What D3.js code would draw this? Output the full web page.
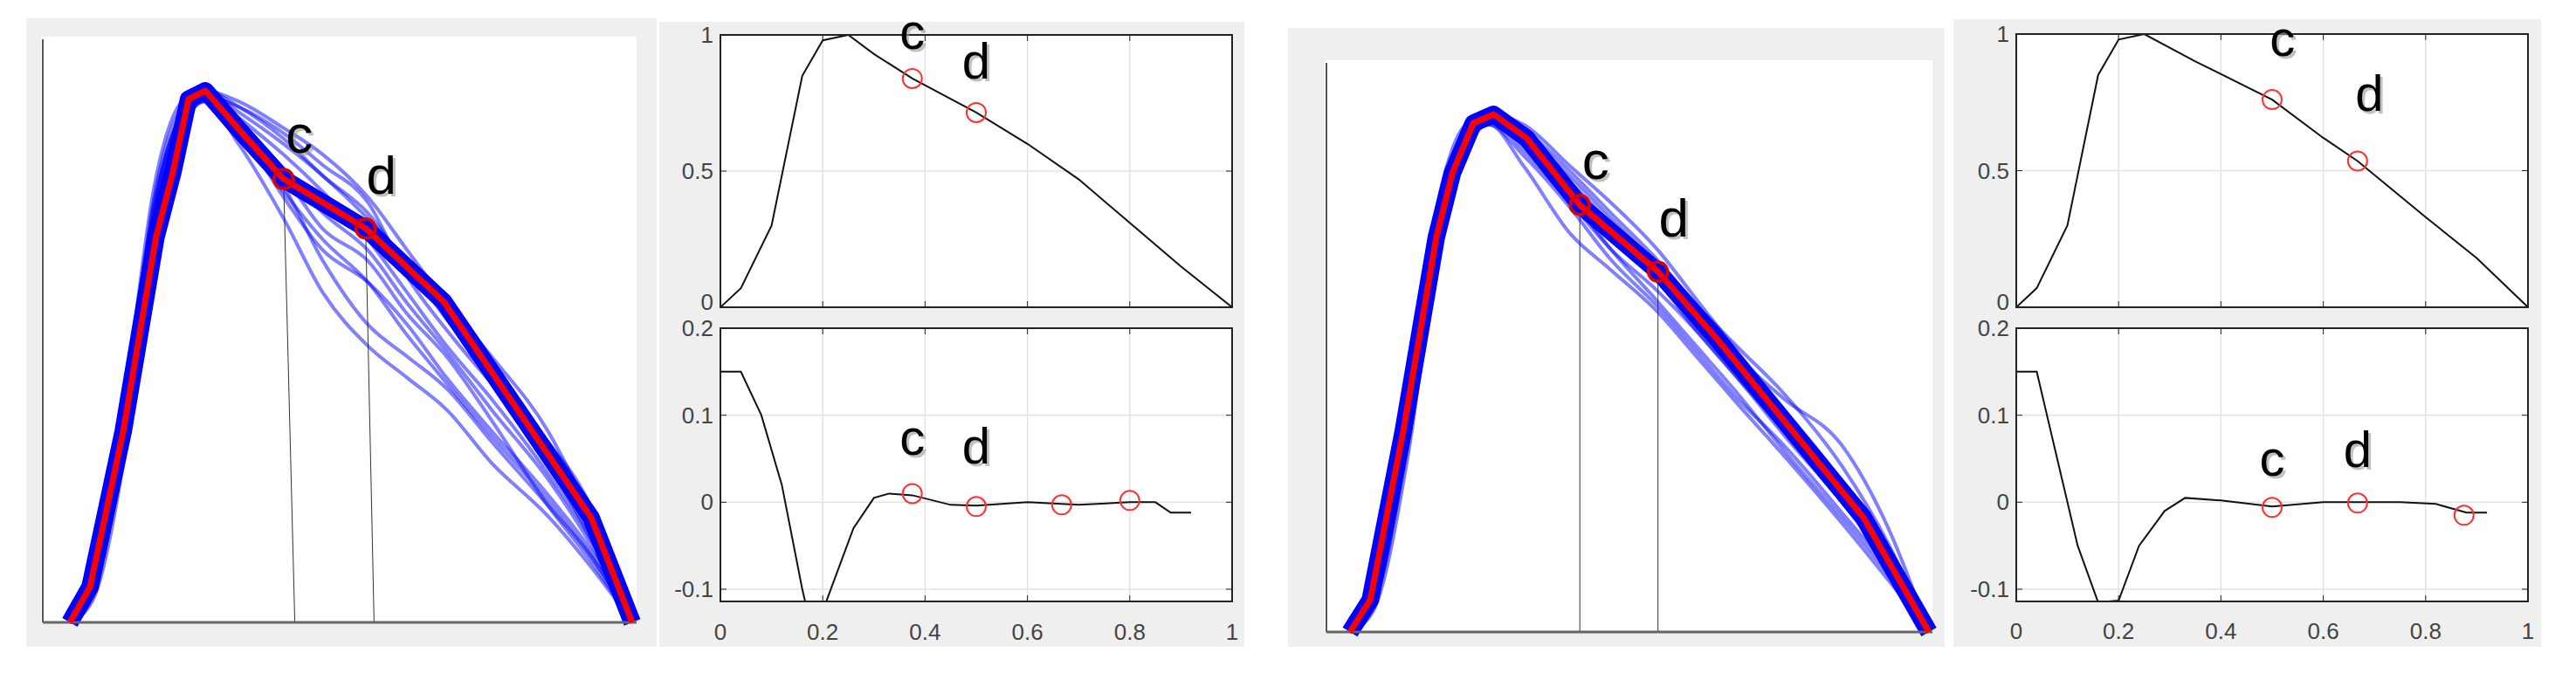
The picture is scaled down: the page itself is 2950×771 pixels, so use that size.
<!DOCTYPE html>
<html><head><meta charset="utf-8">
<script src="https://cdn.jsdelivr.net/npm/d3@7"></script>
<style>body{margin:0;background:#fff}</style></head>
<body><svg id="c" width="2950" height="771"></svg>
<script>
// ---------- data ----------
const gridX = [0,0.04,0.1,0.15,0.2,0.24,0.3,0.38,0.45,0.53,0.6,0.67,0.75,0.85,0.93,1];
const meanA = [[0,0],[0.036,0.067],[0.095,0.36],[0.153,0.724],[0.183,0.846],[0.211,0.984],[0.241,1],[0.30,0.928],[0.38,0.834],[0.526,0.741],[0.665,0.603],[0.927,0.197],[1,0]];
const meanB = [[0,0],[0.035,0.062],[0.092,0.388],[0.149,0.762],[0.177,0.887],[0.213,0.983],[0.248,1],[0.305,0.954],[0.397,0.825],[0.532,0.696],[0.631,0.57],[0.887,0.221],[1,0]];
const curvesA = [
 [0,0.07,0.42,0.80,0.97,1,0.98,0.93,0.88,0.80,0.70,0.60,0.48,0.32,0.17,0],
 [0,0.05,0.38,0.74,0.95,0.99,0.93,0.80,0.70,0.64,0.56,0.46,0.36,0.24,0.13,0],
 [0,0.06,0.35,0.70,0.93,0.98,0.90,0.76,0.62,0.52,0.46,0.40,0.30,0.20,0.10,0],
 [0,0.08,0.44,0.82,0.98,1,0.97,0.91,0.84,0.77,0.67,0.57,0.46,0.30,0.15,0],
 [0,0.05,0.37,0.76,0.94,0.99,0.92,0.84,0.74,0.68,0.58,0.50,0.38,0.22,0.11,0],
 [0,0.06,0.40,0.78,0.96,1,0.96,0.90,0.84,0.76,0.68,0.60,0.50,0.36,0.19,0],
 [0,0.04,0.33,0.72,0.93,0.98,0.91,0.82,0.68,0.56,0.50,0.44,0.34,0.22,0.12,0],
 [0,0.07,0.41,0.79,0.96,1,0.95,0.88,0.81,0.72,0.62,0.52,0.42,0.28,0.15,0],
 [0,0.06,0.39,0.77,0.95,0.99,0.97,0.92,0.86,0.79,0.65,0.55,0.45,0.34,0.21,0],
 [0,0.07,0.40,0.78,0.96,1,0.94,0.85,0.77,0.70,0.60,0.51,0.40,0.27,0.14,0],
 [0,0.05,0.36,0.75,0.94,0.99,0.92,0.81,0.72,0.64,0.54,0.45,0.35,0.23,0.12,0]
];
const curvesB = [
 [0,0.07,0.42,0.80,0.97,1,0.98,0.90,0.83,0.74,0.64,0.54,0.43,0.29,0.15,0],
 [0,0.05,0.38,0.75,0.95,0.99,0.94,0.84,0.74,0.64,0.55,0.46,0.35,0.22,0.11,0],
 [0,0.06,0.36,0.72,0.93,0.98,0.90,0.77,0.70,0.62,0.53,0.44,0.34,0.21,0.10,0],
 [0,0.08,0.44,0.82,0.98,1,0.97,0.89,0.81,0.72,0.63,0.55,0.46,0.32,0.17,0],
 [0,0.05,0.37,0.76,0.94,0.99,0.93,0.83,0.74,0.66,0.58,0.49,0.38,0.25,0.13,0],
 [0,0.06,0.40,0.78,0.96,1,0.96,0.87,0.79,0.70,0.61,0.53,0.45,0.36,0.20,0],
 [0,0.04,0.34,0.73,0.93,0.98,0.92,0.82,0.72,0.63,0.54,0.45,0.36,0.23,0.12,0],
 [0,0.07,0.41,0.79,0.96,1,0.95,0.86,0.77,0.68,0.58,0.49,0.39,0.26,0.14,0],
 [0,0.06,0.39,0.77,0.95,0.99,0.96,0.88,0.80,0.71,0.62,0.52,0.41,0.28,0.15,0]
];
const markA = [0.38,0.526], markB = [0.397,0.532];
const dropA = [0.40,0.541], dropB = [0.397,0.532];
const markLabels = ["c","d"];
const topA = [[0,0],[0.04,0.07],[0.1,0.3],[0.16,0.85],[0.2,0.98],[0.25,1],[0.3,0.93],[0.375,0.84],[0.5,0.715],[0.6,0.6],[0.7,0.47],[0.8,0.31],[0.9,0.15],[1,0]];
const botA = [[0,0.15],[0.04,0.15],[0.08,0.1],[0.12,0.02],[0.16,-0.1],[0.17,-0.125],[0.2,-0.125],[0.26,-0.03],[0.3,0.005],[0.33,0.01],[0.375,0.008],[0.45,-0.003],[0.5,-0.004],[0.6,0.0],[0.7,-0.003],[0.8,0.0],[0.85,0.0],[0.88,-0.012],[0.92,-0.012]];
const topCirA = [0.375,0.5], botCirA = [[0.375,0.01],[0.5,-0.005],[0.667,-0.003],[0.8,0.002]];
const topB = [[0,0],[0.04,0.07],[0.1,0.3],[0.16,0.85],[0.2,0.98],[0.25,1],[0.35,0.9],[0.5,0.76],[0.6,0.62],[0.667,0.535],[0.8,0.33],[0.9,0.18],[1,0]];
const botB = [[0,0.15],[0.04,0.15],[0.08,0.05],[0.12,-0.05],[0.16,-0.115],[0.2,-0.113],[0.24,-0.05],[0.29,-0.01],[0.33,0.005],[0.4,0.002],[0.5,-0.005],[0.6,0.0],[0.667,0.0],[0.75,0.0],[0.82,-0.002],[0.88,-0.012],[0.92,-0.012]];
const topCirB = [0.5,0.667], botCirB = [[0.5,-0.006],[0.667,-0.001],[0.875,-0.015]];
const xTicks = [0,0.2,0.4,0.6,0.8,1], xTickLabels = ["0","0.2","0.4","0.6","0.8","1"];
const topTicks = [0,0.5,1], topTickLabels = ["0","0.5","1"];
const botTicks = [-0.1,0,0.1,0.2], botTickLabels = ["-0.1","0","0.1","0.2"];
const labelTopA = [[0.375,0.95],[0.5,0.84]], labelBotA = [[0.375,0.055],[0.5,0.045]];
const labelTopB = [[0.52,0.92],[0.69,0.72]], labelBotB = [[0.5,0.03],[0.667,0.04]];

// ---------- drawing ----------
const svg = d3.select("#c");
const FONT = "Liberation Sans, Arial, sans-serif";

function interp(pts, x){
  for(let i=1;i<pts.length;i++){ if(x<=pts[i][0]){const a=pts[i-1],b=pts[i];return a[1]+(b[1]-a[1])*(x-a[0])/(b[0]-a[0]);} }
  return pts[pts.length-1][1];
}
function label(g,x,y,t,size){
  g.append("text").attr("x",x+3).attr("y",y+3).attr("font-family",FONT).attr("font-size",size).attr("fill","#999").attr("text-anchor","middle").attr("opacity",0.6).text(t);
  g.append("text").attr("x",x).attr("y",y).attr("font-family",FONT).attr("font-size",size).attr("fill","#000").attr("text-anchor","middle").text(t);
}

function leftPanel(bg, white, axisL, axisB, xr, y0, y1, mean, curves, marks, drops){
  svg.append("rect").attr("x",bg[0]).attr("y",bg[1]).attr("width",bg[2]-bg[0]).attr("height",bg[3]-bg[1]).attr("fill","#efefef");
  svg.append("rect").attr("x",white[0]).attr("y",white[1]).attr("width",white[2]-white[0]).attr("height",white[3]-white[1]).attr("fill","#fff");
  const x = d3.scaleLinear().domain([0,1]).range(xr), y = d3.scaleLinear().domain([0,1]).range([y0,y1]);
  const g = svg.append("g");
  g.append("line").attr("x1",axisL).attr("x2",axisL).attr("y1",white[1]+3).attr("y2",y0).attr("stroke","#555").attr("stroke-width",2);
  marks.forEach((m,i)=>{
    g.append("line").attr("x1",x(m)).attr("y1",y(interp(mean,m))).attr("x2",x(drops[i])).attr("y2",axisB[1]).attr("stroke","#333").attr("stroke-width",1);
  });
  const line = d3.line().x(d=>x(d[0])).y(d=>y(d[1])).curve(d3.curveMonotoneX);
  const rline = d3.line().x(d=>x(d[0])).y(d=>y(d[1]));
  g.append("path").attr("d",rline(mean)).attr("fill","none").attr("stroke","#0000ff").attr("stroke-width",20).attr("stroke-linejoin","round");
  curves.forEach(c=>{
    g.append("path").attr("d",line(c.map((v,i)=>[gridX[i],v]))).attr("fill","none").attr("stroke","#0000ff").attr("stroke-opacity",0.5).attr("stroke-width",4);
  });
  g.append("line").attr("x1",axisL).attr("x2",axisB[0]).attr("y1",axisB[1]).attr("y2",axisB[1]).attr("stroke","#666").attr("stroke-width",3);
  g.append("path").attr("d",rline(mean)).attr("fill","none").attr("stroke","#ff0000").attr("stroke-width",7).attr("stroke-linejoin","round");
  marks.forEach((m,i)=>{
    const cx=x(m), cy=y(interp(mean,m));
    g.append("circle").attr("cx",cx).attr("cy",cy).attr("r",11).attr("fill","none").attr("stroke","#e00000").attr("stroke-width",3.5);
    label(g,cx+18,cy+(i?-40:-30),markLabels[i],62);
  });
}
leftPanel([30,21,752,741],[47,42,729,712],49,[729,713],[80,724],713,104,meanA,curvesA,markA,dropA);
leftPanel([1475,32,2227,741],[1517,69,2213,724],1519,[2213,724],[1546,2209],724,131,meanB,curvesB,markB,dropB);

function rightPanel(bg, xr, topY, botY, labY, topData, botData, topCir, botCir, labT, labB){
  svg.append("rect").attr("x",bg[0]).attr("y",bg[1]).attr("width",bg[2]-bg[0]).attr("height",bg[3]-bg[1]).attr("fill","#efefef");
  const x = d3.scaleLinear().domain([0,1]).range(xr);
  const yT = d3.scaleLinear().domain([0,1]).range(topY);
  const yB = d3.scaleLinear().domain([-0.114,0.2]).range(botY);
  const line = (ys)=>d3.line().x(d=>x(d[0])).y(d=>ys(d[1]));
  [[yT,topY,topTicks,topTickLabels,topData,topCir,labT,true],[yB,botY,botTicks,botTickLabels,botData,botCir,labB,false]].forEach(([ys,yr,tk,tl,data,cir,lab,isTop])=>{
    const g = svg.append("g");
    g.append("rect").attr("x",xr[0]).attr("y",yr[1]).attr("width",xr[1]-xr[0]).attr("height",yr[0]-yr[1]).attr("fill","#fff");
    const cp = "clip"+(isTop?"t":"b")+xr[0];
    g.append("clipPath").attr("id",cp).append("rect").attr("x",xr[0]).attr("y",yr[1]).attr("width",xr[1]-xr[0]).attr("height",yr[0]-yr[1]);
    xTicks.forEach(t=>g.append("line").attr("x1",x(t)).attr("x2",x(t)).attr("y1",yr[0]).attr("y2",yr[1]).attr("stroke","#e3e3e3").attr("stroke-width",1.5));
    tk.forEach(t=>g.append("line").attr("x1",xr[0]).attr("x2",xr[1]).attr("y1",ys(t)).attr("y2",ys(t)).attr("stroke","#e3e3e3").attr("stroke-width",1.5));
    xTicks.forEach(t=>{g.append("line").attr("x1",x(t)).attr("x2",x(t)).attr("y1",yr[0]).attr("y2",yr[0]-7).attr("stroke","#222");
      g.append("line").attr("x1",x(t)).attr("x2",x(t)).attr("y1",yr[1]).attr("y2",yr[1]+7).attr("stroke","#222");});
    tk.forEach((t,i)=>{g.append("line").attr("x1",xr[0]).attr("x2",xr[0]+7).attr("y1",ys(t)).attr("y2",ys(t)).attr("stroke","#222");
      g.append("line").attr("x1",xr[1]).attr("x2",xr[1]-7).attr("y1",ys(t)).attr("y2",ys(t)).attr("stroke","#222");
      g.append("text").attr("x",xr[0]-8).attr("y",ys(t)).attr("dy",isTop&&t===0?"0.1em":"0.35em").attr("text-anchor","end").attr("font-family",FONT).attr("font-size",26).attr("fill","#444").text(tl[i]);});
    g.append("path").attr("d",line(ys)(data)).attr("clip-path",`url(#${cp})`).attr("fill","none").attr("stroke","#111").attr("stroke-width",2);
    g.append("rect").attr("x",xr[0]).attr("y",yr[1]).attr("width",xr[1]-xr[0]).attr("height",yr[0]-yr[1]).attr("fill","none").attr("stroke","#222").attr("stroke-width",2);
    const pts = isTop ? cir.map(c=>[c,interp(data,c)]) : cir;
    pts.forEach(p=>g.append("circle").attr("cx",x(p[0])).attr("cy",ys(p[1])).attr("r",11).attr("fill","none").attr("stroke","#ff3030").attr("stroke-width",2));
    lab.forEach((p,i)=>label(g,x(p[0]),ys(p[1]),markLabels[i],58));
    if(!isTop) xTicks.forEach((t,i)=>g.append("text").attr("x",x(t)).attr("y",labY).attr("dy","0.35em").attr("text-anchor","middle").attr("font-family",FONT).attr("font-size",26).attr("fill","#444").text(xTickLabels[i]));
  });
}
rightPanel([755,25,1425,741],[825,1411],[352,40],[689,376],724,topA,botA,topCirA,botCirA,labelTopA,labelBotA);
rightPanel([2237,22,2910,741],[2309,2895],[352,39],[689,376],723,topB,botB,topCirB,botCirB,labelTopB,labelBotB);
</script></body></html>
